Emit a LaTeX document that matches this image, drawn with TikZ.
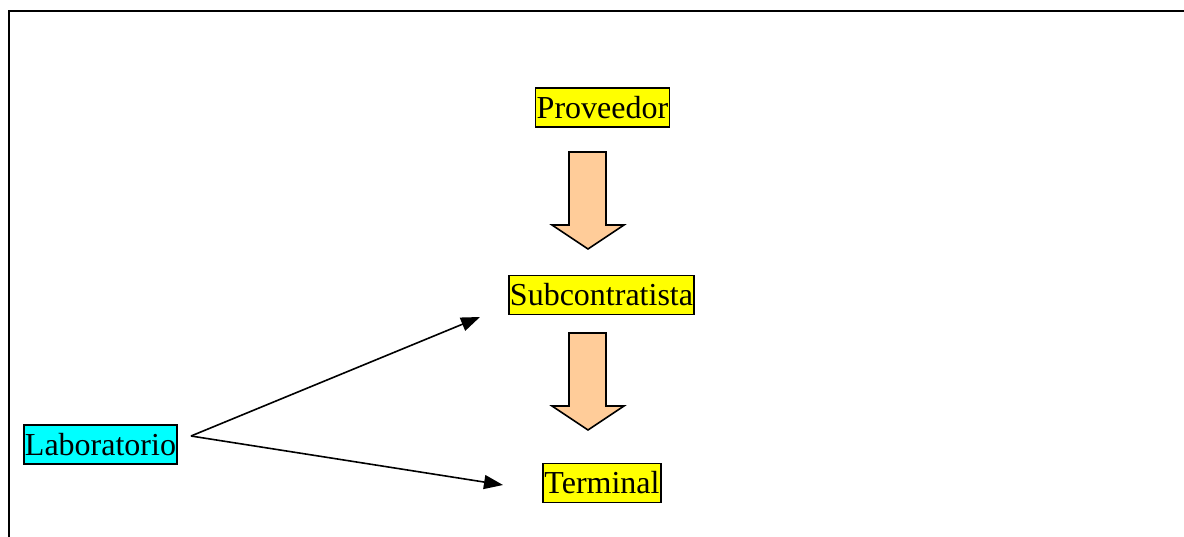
\documentclass[tikz,border=0pt]{standalone}
\usepackage{fontspec}
\setmainfont{Liberation Serif}
\definecolor{boxyellow}{HTML}{FFFF00}
\definecolor{boxcyan}{HTML}{00FFFF}
\definecolor{peach}{HTML}{FFCC99}
\usetikzlibrary{arrows.meta}
\tikzset{
  lbl/.style={draw=black, line width=1.8pt, font=\fontsize{32}{36}\selectfont,
    inner xsep=1.2pt, inner ysep=2pt, text height=28pt, text depth=7pt},
  yel/.style={lbl, fill=boxyellow},
  cyn/.style={lbl, fill=boxcyan},
  blockarrow/.style={draw=black, line width=1.6pt, fill=peach, line join=miter},
  conn/.style={line width=1.6pt, -{Triangle[length=19pt,width=14pt]}},
  frame/.style={line width=2pt}
}
\begin{document}
\begin{tikzpicture}[x=1pt,y=-1pt]
\useasboundingbox (0,0) rectangle (1184,536);
\draw[frame] (9,537) -- (9,11) -- (1185,11);
\node[yel] (prov) at (602.5,107.5) {Proveedor};
\node[yel] (sub) at (601.5,295) {Subcontratista};
\node[yel] (term) at (602,483) {Terminal};
\node[cyn] (lab) at (100.5,444.5) {Laboratorio};
% block arrows
\draw[blockarrow] (569,152) -- (606,152) -- (606,225) -- (624,225) -- (588,249) -- (552,225) -- (569,225) -- cycle;
\draw[blockarrow] (569,333) -- (606,333) -- (606,406) -- (624,406) -- (588,430) -- (552,406) -- (569,406) -- cycle;
% connectors
\coordinate (ls) at (191,436);
\coordinate (te1) at (480,317);
\coordinate (te2) at (503,485);
\draw[conn] (ls) -- (te1);
\draw[conn] (ls) -- (te2);
\end{tikzpicture}
\end{document}
